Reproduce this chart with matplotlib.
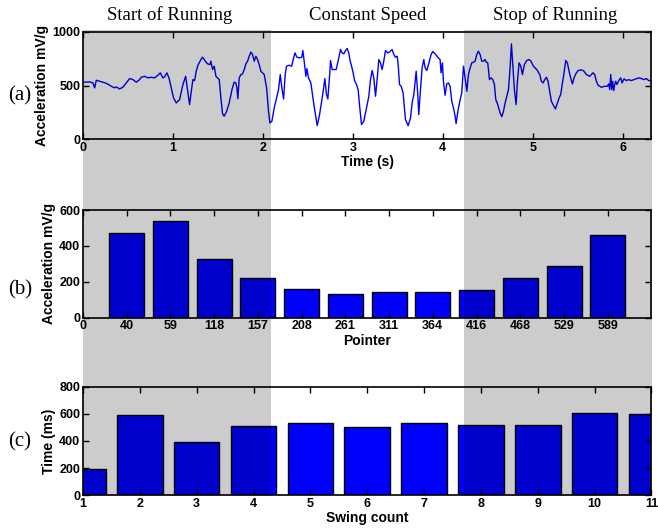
import matplotlib.pyplot as plt
from matplotlib.patches import Rectangle

# (a) raw acceleration trace
t = [0.019, 0.074, 0.111, 0.130, 0.148, 0.185, 0.259, 0.315, 0.352, 0.370, 0.407, 0.444,
     0.481, 0.519, 0.556, 0.593, 0.630, 0.648, 0.685, 0.722, 0.759, 0.796, 0.833, 0.859,
     0.889, 0.907, 0.933, 0.956, 0.981, 1.007, 1.037, 1.074, 1.111, 1.141, 1.167, 1.185,
     1.204, 1.222, 1.241, 1.259, 1.278, 1.311, 1.330, 1.359, 1.385, 1.411, 1.422, 1.441,
     1.459, 1.478, 1.496, 1.515, 1.533, 1.552, 1.570, 1.596, 1.626, 1.656, 1.681, 1.700,
     1.711, 1.722, 1.737, 1.756, 1.774, 1.793, 1.811, 1.830, 1.848, 1.867, 1.885, 1.904,
     1.922, 1.941, 1.959, 1.978, 2.015, 2.041, 2.063, 2.078, 2.100, 2.126, 2.152, 2.174,
     2.193, 2.211, 2.230, 2.248, 2.263, 2.293, 2.319, 2.337, 2.356, 2.378, 2.404, 2.433,
     2.444, 2.459, 2.478, 2.489, 2.507, 2.533, 2.567, 2.604, 2.630, 2.659, 2.678, 2.689,
     2.707, 2.722, 2.744, 2.752, 2.770, 2.789, 2.815, 2.844, 2.863, 2.881, 2.900, 2.918,
     2.937, 2.955, 2.967, 2.981, 3.000, 3.019, 3.041, 3.059, 3.074, 3.096, 3.122, 3.148,
     3.178, 3.196, 3.215, 3.233, 3.252, 3.270, 3.289, 3.307, 3.326, 3.344, 3.363, 3.389,
     3.411, 3.437, 3.456, 3.474, 3.493, 3.504, 3.519, 3.537, 3.559, 3.585, 3.615, 3.641,
     3.659, 3.678, 3.704, 3.722, 3.733, 3.752, 3.770, 3.789, 3.804, 3.822, 3.841, 3.870,
     3.889, 3.915, 3.944, 3.970, 3.981, 3.996, 4.007, 4.026, 4.044, 4.063, 4.081, 4.100,
     4.119, 4.137, 4.148, 4.167, 4.193, 4.211, 4.230, 4.248, 4.267, 4.285, 4.304, 4.322,
     4.341, 4.359, 4.378, 4.396, 4.415, 4.433, 4.452, 4.470, 4.481, 4.500, 4.519, 4.537,
     4.556, 4.574, 4.589, 4.611, 4.637, 4.656, 4.674, 4.693, 4.711, 4.730, 4.748, 4.763,
     4.781, 4.796, 4.815, 4.830, 4.848, 4.867, 4.885, 4.907, 4.933, 4.959, 4.981, 5.007,
     5.044, 5.078, 5.096, 5.115, 5.133, 5.152, 5.170, 5.189, 5.207, 5.226, 5.252, 5.274,
     5.293, 5.311, 5.330, 5.348, 5.367, 5.385, 5.404, 5.422, 5.441, 5.459, 5.478, 5.504,
     5.541, 5.570, 5.596, 5.633, 5.670, 5.689, 5.707, 5.726, 5.763, 5.800, 5.830, 5.844,
     5.856, 5.867, 5.878, 5.889, 5.900, 5.911, 5.922, 5.937, 5.956, 5.978, 5.993, 6.015,
     6.041, 6.067, 6.096, 6.126, 6.152, 6.178, 6.207, 6.237, 6.263, 6.289, 6.311]
acc = [532, 535, 525, 479, 550, 541, 522, 494, 479, 488, 469, 485,
       525, 566, 556, 532, 556, 578, 587, 572, 578, 572, 597, 619,
       572, 581, 619, 572, 479, 385, 339, 370, 510, 587, 432, 323,
       448, 556, 547, 634, 690, 743, 765, 728, 703, 696, 728, 650,
       681, 587, 572, 556, 385, 236, 215, 258, 339, 463, 532, 525,
       479, 379, 572, 603, 609, 650, 703, 728, 774, 812, 790, 728,
       774, 743, 696, 634, 603, 479, 258, 152, 168, 292, 385, 463,
       603, 479, 376, 603, 681, 690, 681, 743, 805, 765, 759, 765,
       827, 728, 587, 659, 572, 525, 323, 127, 230, 385, 494, 566,
       417, 376, 619, 734, 650, 650, 650, 759, 836, 805, 796, 827,
       846, 805, 743, 696, 634, 547, 510, 463, 323, 137, 168, 277,
       401, 556, 641, 572, 401, 556, 743, 712, 650, 728, 827, 805,
       815, 836, 790, 765, 774, 696, 510, 494, 432, 183, 127, 199,
       339, 417, 634, 417, 230, 463, 665, 743, 665, 641, 696, 790,
       818, 796, 765, 743, 619, 712, 541, 410, 516, 525, 494, 354,
       292, 215, 146, 258, 370, 432, 681, 572, 448, 603, 665, 712,
       718, 728, 790, 821, 790, 728, 728, 743, 721, 712, 556, 572,
       556, 510, 370, 323, 245, 211, 258, 339, 401, 463, 665, 889,
       665, 463, 323, 541, 712, 681, 603, 696, 734, 743, 728, 681,
       650, 603, 541, 525, 556, 578, 541, 448, 354, 323, 283, 339,
       385, 417, 525, 619, 734, 712, 634, 572, 516, 572, 609, 641,
       647, 634, 603, 587, 619, 603, 541, 504, 485, 494, 494, 516,
       463, 603, 463, 541, 454, 510, 541, 510, 547, 572, 525, 563,
       547, 556, 547, 556, 563, 572, 566, 556, 566, 547, 547]

# (b) peak acceleration per swing
pointers = ['40', '59', '118', '157', '208', '261', '311', '364', '416', '468', '529', '589']
peak = [473, 539, 327, 221, 160, 134, 141, 141, 156, 221, 286, 460]

# (c) swing duration
swing = [1, 2, 3, 4, 5, 6, 7, 8, 9, 10, 11]
dur = [191, 591, 393, 508, 530, 501, 530, 520, 520, 608, 601]

phases = ['Start of Running', 'Constant Speed', 'Stop of Running']

lab = dict(fontsize=10, fontweight='bold', family='Liberation Sans')
blue = '#0000ff'

fig = plt.figure(figsize=(6.58, 5.30), dpi=100)
ax1 = fig.add_axes([0.1261, 0.7372, 0.864, 0.2025])
ax2 = fig.add_axes([0.1261, 0.4006, 0.864, 0.2030])
ax3 = fig.add_axes([0.1261, 0.0655, 0.864, 0.2050])

ax1.plot(t, acc, color=blue, lw=1.0)
ax1.set_xlim(0, 6.32)
ax1.set_ylim(0, 1000)
ax1.set_xticks(range(7))
ax1.set_yticks([0, 500, 1000])
ax1.set_xlabel('Time (s)', labelpad=1, **lab)
ax1.set_ylabel('Acceleration mV/g', labelpad=2, **lab)

pos = list(range(1, len(peak) + 1))
ax2.bar(pos, peak, width=0.8, color=blue, edgecolor='black', lw=1.0)
ax2.set_xlim(0, 13)
ax2.set_ylim(0, 600)
ax2.set_xticks([0] + pos)
ax2.set_xticklabels(['0'] + pointers)
ax2.set_yticks([0, 200, 400, 600])
ax2.set_xlabel('Pointer', labelpad=1, **lab)
ax2.set_ylabel('Acceleration mV/g', labelpad=2, **lab)

ax3.bar(swing, dur, width=0.8, color=blue, edgecolor='black', lw=1.0)
ax3.set_xlim(1, 11)
ax3.set_ylim(0, 800)
ax3.set_xticks(swing)
ax3.set_yticks(range(0, 801, 200))
ax3.set_xlabel('Swing count', labelpad=1, **lab)
ax3.set_ylabel('Time (ms)', labelpad=2, **lab)

for ax in (ax1, ax2, ax3):
    ax.tick_params(direction='in', top=True, right=True, length=4, width=1, pad=2)
    for s in ax.spines.values():
        s.set_linewidth(1.2)
    for tl in ax.get_xticklabels() + ax.get_yticklabels():
        tl.set_fontweight('bold')
        tl.set_family('Liberation Sans')
        tl.set_fontsize(9)

# grey phase bands laid over all three panels
for x0, x1 in [(0.1261, 0.4111), (0.7052, 0.9904)]:
    fig.patches.append(Rectangle((x0, 0.065), x1 - x0, 0.9434 - 0.065,
                                 transform=fig.transFigure, facecolor='black',
                                 alpha=0.2, edgecolor='none', zorder=10))

for x, name in zip([0.258, 0.558, 0.843], phases):
    fig.text(x, 0.971, name, ha='center', va='center',
             family='Liberation Serif', fontsize=13.5)
for y, name in zip([0.82, 0.453, 0.166], ['(a)', '(b)', '(c)']):
    fig.text(0.03, y, name, ha='center', va='center',
             family='Liberation Serif', fontsize=15)

fig.savefig('out.png', dpi=100)
